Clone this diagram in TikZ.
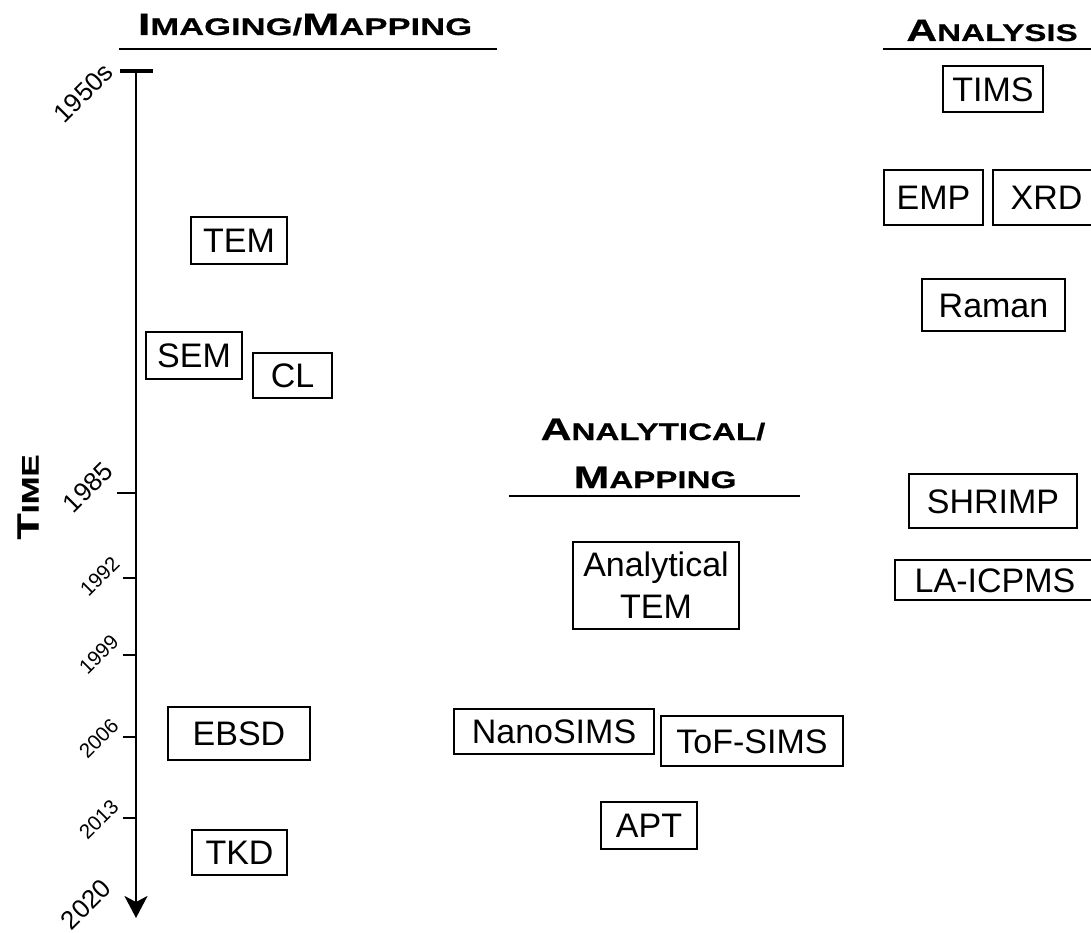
\documentclass[tikz,border=0pt]{standalone}
\usepackage{fontspec}
\setmainfont{Liberation Sans}
\newfontfamily\hdfont{Liberation Sans}[FakeStretch=1.38, BoldFeatures={FakeBold=0.5}]
\usetikzlibrary{arrows.meta}
\newcommand\hc[2]{{\fontsize{31}{31}\selectfont #1}{\fontsize{24}{24}\selectfont #2}}
\tikzset{
  box/.style={draw, line width=1.5pt, inner sep=0pt, font=\fontsize{34}{42}\selectfont,
    text height=24.5pt, text depth=0pt},
  header/.style={inner sep=0pt, anchor=base, font=\hdfont\bfseries},
  uline/.style={line width=1.6pt},
  yearbig/.style={rotate=45, anchor=base east, inner sep=0pt, font=\fontsize{26}{26}\selectfont},
  yearsm/.style={rotate=45, anchor=base east, inner sep=0pt, font=\fontsize{20.5}{20.5}\selectfont},
  tick/.style={line width=1.6pt},
}
\begin{document}
\begin{tikzpicture}[x=1pt,y=-1pt]
\useasboundingbox (0,0) rectangle (1091,933);
\clip (0,0) rectangle (1091,933);

% headers
\node[header] (himg) at (305,35) {\scalebox{1.045}[1]{\hc{I}{MAGING/}\hc{M}{APPING}}};
\draw[uline] (119,49) -- (497,49);
\node[header] (hana) at (992,41) {\hc{A}{NALYSIS}};
\draw[uline] (883,49) -- (1091,49);
\node[header] (hal1) at (653,440) {\hc{A}{NALYTICAL/}};
\node[header] (hal2) at (655,488) {\hc{M}{APPING}};
\draw[uline] (509,496) -- (800,496);
\node[header, anchor=center, rotate=90] (htime) at (28,497) {\hc{T}{IME}};

% time axis
\coordinate (atop) at (136,71);
\coordinate (abot) at (136,918);
\draw[line width=2.5pt, -{Stealth[length=22pt,width=23pt,inset=6pt]}] (atop) -- (abot);
\draw[line width=4pt] (120,71) -- (153,71);
\draw[tick] (117,493) -- (136,493);
\draw[tick] (123,578) -- (136,578);
\draw[tick] (123,655) -- (136,655);
\draw[tick] (123,737) -- (136,737);
\draw[tick] (123,818) -- (136,818);

\node[yearbig] (y1950) at (115,74) {1950s};
\node[yearbig] (y1985) at (115,473) {1985};
\node[yearsm] (y1992) at (121,565) {1992};
\node[yearsm] (y1999) at (120,643) {1999};
\node[yearsm] (y2006) at (120,727) {2006};
\node[yearsm] (y2013) at (120,808) {2013};
\node[yearbig] (y2020) at (113,890) {2020};

% imaging / mapping
\node[box, minimum width=96pt, minimum height=47pt] (tem) at (239,240.5) {TEM};
\node[box, minimum width=96pt, minimum height=47pt] (sem) at (194,355.5) {SEM};
\node[box, minimum width=79pt, minimum height=45pt] (cl) at (292.5,375.5) {CL};
\node[box, minimum width=142pt, minimum height=53pt] (ebsd) at (239,733.5) {EBSD};
\node[box, minimum width=95pt, minimum height=45pt] (tkd) at (239.5,852.5) {TKD};

% analytical / mapping
\node[box, minimum width=166pt, minimum height=87pt, align=center, text height=, text depth=] (atem) at (656,585.5) {Analytical\\TEM};
\node[box, minimum width=200pt, minimum height=45pt] (nano) at (554,731.5) {NanoSIMS};
\node[box, minimum width=182pt, minimum height=50pt] (tof) at (752,741) {ToF-SIMS};
\node[box, minimum width=96pt, minimum height=47pt] (apt) at (649,825.5) {APT};

% analysis
\node[box, minimum width=100pt, minimum height=46pt] (tims) at (993,89) {TIMS};
\node[box, minimum width=99pt, minimum height=55pt] (emp) at (933.5,197.5) {EMP};
\node[box, minimum width=107pt, minimum height=55pt] (xrd) at (1046.5,197.5) {XRD};
\node[box, minimum width=143pt, minimum height=52pt] (raman) at (993.5,305) {Raman};
\node[box, minimum width=168pt, minimum height=54pt] (shrimp) at (993,501) {SHRIMP};
\node[box, minimum width=200pt, minimum height=40pt] (laicp) at (995,580) {LA-ICPMS};
\end{tikzpicture}
\end{document}
